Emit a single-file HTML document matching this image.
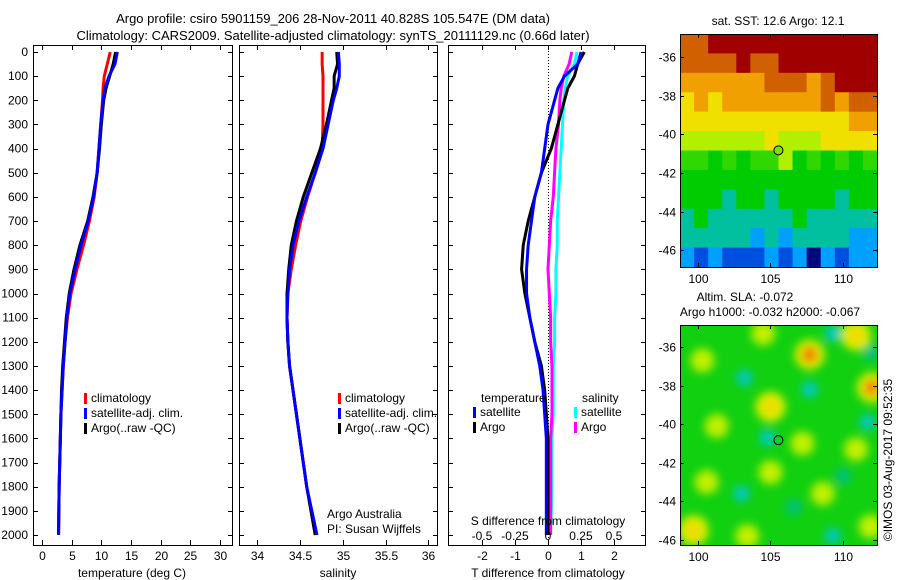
<!DOCTYPE html>
<html><head><meta charset="utf-8"><style>
body{margin:0;background:#fff}
svg{display:block;font-family:"Liberation Sans",sans-serif;font-size:12px}
</style></head><body>
<svg id="c" width="900" height="580" xmlns="http://www.w3.org/2000/svg">
<text x="333" y="23" text-anchor="middle" font-size="13">Argo profile: csiro 5901159_206 28-Nov-2011 40.828S 105.547E (DM data)</text>
<text x="333" y="40" text-anchor="middle" font-size="13">Climatology: CARS2009. Satellite-adjusted climatology: synTS_20111129.nc (0.66d later)</text>
<g id="g"></g>
<text transform="translate(892,460) rotate(-90)" text-anchor="middle">©IMOS 03-Aug-2017 09:52:35</text>
</svg>
<script>
const NS="http://www.w3.org/2000/svg";
const depths=[0,50,100,150,200,300,400,500,600,700,800,900,1000,1100,1200,1300,1400,1500,1600,1800,2000];
const tClim=[11.5,11.0,10.5,10.3,10.2,9.9,9.6,9.3,8.8,8.0,7.0,5.9,4.9,4.3,3.9,3.6,3.4,3.2,3.1,2.9,2.8];
const tSat=[12.7,12.3,11.3,10.6,10.3,9.9,9.6,9.3,8.7,7.8,6.6,5.6,4.7,4.2,3.9,3.6,3.4,3.2,3.1,2.9,2.8];
const tArgo=[12.4,12.0,11.4,10.8,10.4,10.0,9.7,9.3,8.6,7.7,6.4,5.4,4.6,4.1,3.8,3.5,3.3,3.2,3.1,2.9,2.8];
const sClim=[34.76,34.76,34.77,34.77,34.77,34.77,34.76,34.68,34.59,34.51,34.45,34.40,34.36,34.35,34.36,34.38,34.42,34.46,34.50,34.58,34.68];
const sSat=[34.95,34.96,34.96,34.93,34.89,34.83,34.77,34.68,34.58,34.49,34.42,34.38,34.36,34.35,34.36,34.38,34.42,34.46,34.50,34.58,34.70];
const sArgo=[34.93,34.94,34.90,34.90,34.87,34.81,34.74,34.64,34.54,34.46,34.40,34.37,34.35,34.35,34.36,34.38,34.42,34.46,34.50,34.58,34.68];
const dDepths=[0,50,100,150,200,300,400,500,600,700,800,900,1000,1100,1200,1300,1400,1500,1600,1700,1800,2000];
const dtSat=[1.0,0.9,0.5,0.3,0.2,0.0,-0.1,-0.2,-0.4,-0.5,-0.6,-0.65,-0.65,-0.55,-0.4,-0.25,-0.15,-0.1,-0.05,-0.05,-0.05,-0.05];
const dtArgo=[1.1,0.9,0.8,0.6,0.5,0.3,0.1,-0.2,-0.4,-0.6,-0.75,-0.8,-0.7,-0.55,-0.4,-0.2,-0.1,-0.05,0.0,0.0,0.0,0.0];
const dsSat=[0.22,0.2,0.15,0.13,0.12,0.11,0.1,0.09,0.08,0.07,0.07,0.06,0.06,0.05,0.05,0.04,0.04,0.04,0.03,0.03,0.03,0.02];
const dsArgo=[0.18,0.16,0.12,0.10,0.09,0.08,0.06,0.05,0.04,0.02,0.01,0.0,0.01,0.02,0.02,0.03,0.03,0.03,0.02,0.02,0.02,0.02];
const tTicks=[0,5,10,15,20,25,30];
const sTicks=[34,34.5,35,35.5,36];
const dtTicks=[-2,-1,0,1,2];
const dsTicks=[-0.5,-0.25,0,0.25,0.5];
const dsTickLabels=["-0.5","-0.25","0","0.25","0.5"];
const yTicks=[0,100,200,300,400,500,600,700,800,900,1000,1100,1200,1300,1400,1500,1600,1700,1800,1900,2000];
const sstRows=["99aaaaaaaaaaaa","9999a99aaaaaaa","88888899989aaa","78788888889899","77777777777788","66666676667777","55454556454545","44444444444444","44434434444344","34333333433333","33333232333322","21211121202122"];
const slaLon=[107.7,112.0,110.9,109.3,111.9,103.2,107.7,105.0,111.7,104.8,101.3,107.2,100.3,105.0,103.0,110.0,106.6,109.3,99.7,100.6,103.4,111.9,108.6,104.5,110.9];
const slaLat=[-36.4,-38.1,-35.4,-35.3,-36.3,-37.6,-38.2,-39.1,-39.9,-40.7,-40.1,-41.0,-36.7,-42.5,-43.6,-42.7,-44.3,-45.8,-45.5,-43.0,-45.8,-45.3,-43.6,-35.3,-41.3];
const slaVal=[3,3,2,-2,-1,-2,-2,2,-2,-2,1,1,1,1,-2,-1,-1,-2,2,1,1,1,1,1,1];
const g=document.getElementById('g');
function el(t,a,p){const e=document.createElementNS(NS,t);for(const k in a)e.setAttribute(k,a[k]);(p||g).appendChild(e);return e;}
function txt(x,y,s,anchor,name,p){const e=el('text',{x:x,y:y,'text-anchor':anchor||'middle'},p);e.textContent=s;return e;}
const Y0=45,Y1=545;const yD=d=>52+d*0.2415;
function panel(x0,x1,dmin,dmax,name){
 const sx=v=>x0+(v-dmin)/(dmax-dmin)*(x1-x0);
 const r=el('rect',{x:x0+.5,y:Y0+.5,width:x1-x0,height:Y1-Y0,fill:'none',stroke:'#000'});
 
 yTicks.forEach(d=>{const y=Math.round(yD(d))+.5;el('line',{x1:x0,x2:x0+5,y1:y,y2:y,stroke:'#000'});el('line',{x1:x1-4,x2:x1,y1:y,y2:y,stroke:'#000'});});
 return sx;}
function line(pts,col,name){const p=el('polyline',{points:pts.join(' '),fill:'none',stroke:col,'stroke-width':3});}
function xticks(sx,ticks,labels,name){ticks.forEach((t,i)=>{const x=Math.round(sx(t))+.5;el('line',{x1:x,x2:x,y1:Y1,y2:Y1-5,stroke:'#000'});el('line',{x1:x,x2:x,y1:Y0,y2:Y0+5,stroke:'#000'});txt(x,560,labels?labels[i]:String(t),'middle',name+'-tick-label');});}
// panel 1
const sT=panel(33,232,-1.5,32,'temperature-panel');
yTicks.forEach(d=>txt(28,yD(d)+4,String(d),'end','depth-tick-label'));
xticks(sT,tTicks,null,'temperature');
line(depths.map((d,i)=>sT(tClim[i])+','+yD(d)),'#f00','temp-climatology-line');
line(depths.map((d,i)=>sT(tArgo[i])+','+yD(d)),'#000','temp-argo-line');
line(depths.map((d,i)=>sT(tSat[i])+','+yD(d)),'#00f','temp-satellite-line');
txt(132,577,'temperature (deg C)','middle','temperature-axis-title');
function legend(x,y,items,pre){items.forEach((it,i)=>{const r=el('rect',{x:x,y:y+i*15-9,width:3,height:11,fill:it[0]});txt(x+7,y+i*15,it[1],'start',pre+'-legend-entry');});}
legend(84,402,[['#f00','climatology'],['#00f','satellite-adj. clim.'],['#000','Argo(..raw -QC)']],'temperature');
// panel 2
const sS=panel(239,437,33.79,36.1,'salinity-panel');
xticks(sS,sTicks,null,'salinity');
line(depths.map((d,i)=>sS(sClim[i])+','+yD(d)),'#f00','sal-climatology-line');
line(depths.map((d,i)=>sS(sArgo[i])+','+yD(d)),'#000','sal-argo-line');
line(depths.map((d,i)=>sS(sSat[i])+','+yD(d)),'#00f','sal-satellite-line');
txt(338,577,'salinity','middle','salinity-axis-title');
legend(338,402,[['#f00','climatology'],['#00f','satellite-adj. clim.'],['#000','Argo(..raw -QC)']],'salinity');
txt(327,518,'Argo Australia','start','argo-australia-note');
txt(327,533,'PI: Susan Wijffels','start','pi-note');
// panel 3
const sD=panel(448,645,-3.03,2.94,'difference-panel');
const sDS=v=>sD(v*4);
xticks(sD,dtTicks,null,'t-difference');
el('line',{x1:Math.round(sD(0))+.5,x2:Math.round(sD(0))+.5,y1:Y0,y2:Y1,stroke:'#000','stroke-dasharray':'1,2'});
line(dDepths.map((d,i)=>sDS(dsSat[i])+','+yD(d)),'#0ff','s-diff-satellite-line');
line(dDepths.map((d,i)=>sDS(dsArgo[i])+','+yD(d)),'#f0f','s-diff-argo-line');
line(dDepths.map((d,i)=>sD(dtArgo[i])+','+yD(d)),'#000','t-diff-argo-line');
line(dDepths.map((d,i)=>sD(dtSat[i])+','+yD(d)),'#00f','t-diff-satellite-line');
dsTicks.forEach((t,i)=>txt(sDS(t),540,dsTickLabels[i],'middle','s-difference-tick-label'));
txt(548,525,'S difference from climatology','middle','s-difference-axis-title');
txt(548,577,'T difference from climatology','middle','t-difference-axis-title');
txt(481,402,'temperature','start','temperature-legend-heading');
txt(582,402,'salinity','start','salinity-legend-heading');
legend(473,416,[['#00f','satellite'],['#000','Argo']],'t-diff');
legend(574,416,[['#0ff','satellite'],['#f0f','Argo']],'s-diff');
// maps
function mapAxes(x0,y0,x1,y1,latTop,name){
 const lx=v=>x0+(v-98.76)*14.5, ly=v=>y0+(latTop-v)*19.3;
 const r=el('rect',{x:x0+.5,y:y0+.5,width:x1-x0,height:y1-y0,fill:'none',stroke:'#000'});
 
 [-36,-38,-40,-42,-44,-46].forEach(v=>{const y=Math.round(ly(v))+.5;el('line',{x1:x0,x2:x0+4,y1:y,y2:y,stroke:'#000'});el('line',{x1:x1-4,x2:x1,y1:y,y2:y,stroke:'#000'});txt(x0-4,y+4,String(v),'end',name+'-lat-label');});
 [100,105,110].forEach(v=>{const x=Math.round(lx(v))+.5;el('line',{x1:x,x2:x,y1:y0,y2:y0+4,stroke:'#000'});el('line',{x1:x,x2:x,y1:y1-4,y2:y1,stroke:'#000'});txt(x,y1+16,String(v),'middle',name+'-lon-label');});
 return [lx,ly];}
const cmap={'0':'#000a80','1':'#0050e0','2':'#00a0ff','3':'#00c0a0','4':'#00cc00','5':'#30d800','6':'#b0f000','7':'#f0e000','8':'#f0a000','9':'#d06000','a':'#a00000'};
const mx0=680,mx1=877,my0=34,my1=267;
const cw=(mx1-mx0)/14,ch=(my1-my0)/12;
sstRows.forEach((row,ri)=>{[...row].forEach((c,ci)=>{const r=el('rect',{x:mx0+ci*cw,y:my0+ri*ch,width:cw+.5,height:ch+.5,fill:cmap[c]});});});
const [lx1,ly1]=mapAxes(mx0,my0,mx1,my1,-34.8,'sst-map');
el('circle',{cx:lx1(105.547),cy:ly1(-40.828),r:4.5,fill:'#80e000',stroke:'#000'});
txt(778,25,'sat. SST: 12.6 Argo: 12.1','middle','sst-map-title');
// SLA map
const ny0=325,ny1=545;
const defs=el('defs',{});
const f=el('filter',{id:'bl',x:'-50%',y:'-50%',width:'200%',height:'200%'},defs);el('feGaussianBlur',{stdDeviation:4.5},f);
const cp=el('clipPath',{id:'cp'},defs);el('rect',{x:mx0,y:ny0,width:mx1-mx0,height:ny1-ny0},cp);
const sg=el('g',{'clip-path':'url(#cp)'});
el('rect',{x:mx0,y:ny0,width:mx1-mx0,height:ny1-ny0,fill:'#10d010'},sg);
const bg=el('g',{filter:'url(#bl)'},sg);
const bcol={'3':'#f07800','2':'#f0d800','1':'#c0f000','-1':'#00c080','-2':'#00c8c8'};
const lx2=v=>mx0+(v-98.76)*14.5, ly2=v=>ny0+(-34.86-v)*19.3;
slaVal.forEach((v,i)=>{
 if(v>=2){const h=el('circle',{cx:lx2(slaLon[i]),cy:ly2(slaLat[i]),r:15,fill:'#e0f000'},bg);}
 const c=el('circle',{cx:lx2(slaLon[i]),cy:ly2(slaLat[i]),r:v>=2?8:(v<0?8:12),fill:bcol[v]},bg);
 
 
});
const [lx3,ly3]=mapAxes(mx0,ny0,mx1,ny1,-34.86,'sla-map');
el('circle',{cx:lx3(105.547),cy:ly3(-40.828),r:4.5,fill:'none',stroke:'#000'});
txt(745,301,'Altim. SLA: -0.072','middle','sla-map-title-1');
txt(770,316,'Argo h1000: -0.032 h2000: -0.067','middle','sla-map-title-2');
</script>
</body></html>
